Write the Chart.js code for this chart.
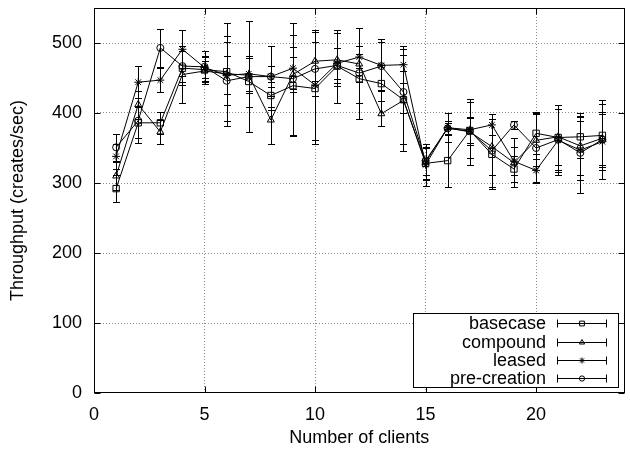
<!DOCTYPE html>
<html>
<head>
<meta charset="utf-8">
<script src="https://cdn.jsdelivr.net/npm/chart.js@4/dist/chart.umd.min.js"></script>
<style>
  html, body { margin: 0; padding: 0; background: #fff; }
  #wrap { width: 630px; height: 450px; }
</style>
</head>
<body>
<div id="wrap"><canvas id="chart" width="630" height="450"></canvas></div>
<script>
// Number of clients (x)
const clients = [1, 2, 3, 4, 5, 6, 7, 8, 9, 10, 11, 12, 13, 14, 15, 16, 17, 18, 19, 20, 21, 22, 23];

// Throughput means (creates/sec)
const basecase    = [292, 386, 386, 464, 462, 459, 445, 425, 439, 435, 467, 449, 442, 419, 328, 332, 375, 341, 320, 371, 365, 366, 368];
const compound    = [310, 412, 373, 455, 460, 456, 454, 390, 455, 474, 476, 470, 399, 418, 330, 379, 373, 352, 329, 361, 366, 353, 364];
const leased      = [338, 444, 447, 491, 465, 454, 456, 452, 464, 440, 471, 480, 468, 469, 326, 379, 376, 383, 331, 318, 361, 347, 359];
const precreation = [351, 389, 493, 467, 466, 446, 452, 452, 449, 463, 468, 457, 467, 430, 332, 378, 374, 346, 383, 350, 362, 343, 362];

// Error bar half-widths
const basecaseErr    = [19, 22, 16, 24, 20, 70, 36, 20, 72, 80, 52, 35, 60, 64, 22, 38, 18, 50, 18, 30, 46, 30, 45];
const compoundErr    = [20, 20, 17, 40, 14, 45, 25, 34, 25, 28, 38, 25, 18, 73, 25, 10, 47, 40, 35, 37, 40, 42, 38];
const leasedErr      = [18, 23, 17, 27, 15, 27, 25, 43, 30, 78, 22, 15, 37, 26, 30, 21, 40, 15, 20, 17, 45, 42, 40];
const precreationErr = [19, 32, 27, 22, 22, 64, 79, 15, 80, 38, 25, 65, 34, 30, 20, 8, 20, 52, 6, 50, 50, 57, 56];

const xTicks = [0, 5, 10, 15, 20];
const yTicks = [0, 100, 200, 300, 400, 500];

const series = [
    { label: 'basecase',     values: basecase,    err: basecaseErr,    style: 'rect',     radius: 4.5 },
    { label: 'compound',     values: compound,    err: compoundErr,    style: 'triangle', radius: 4 },
    { label: 'leased',       values: leased,      err: leasedErr,      style: 'star',     radius: 4 },
    { label: 'pre-creation', values: precreation, err: precreationErr, style: 'circle',   radius: 3.5 }
];

const FONT = 'Liberation Sans, Arial, Helvetica, sans-serif';

// Barres d'erreur (verticales avec petits chapeaux)
const errorBars = {
    id: 'errorBars',
    beforeDatasetsDraw(chart) {
        const { ctx, scales: { x, y } } = chart;
        ctx.save();
        ctx.strokeStyle = '#000';
        ctx.lineWidth = 1;
        series.forEach(s => {
            clients.forEach((c, i) => {
                const px = Math.round(x.getPixelForValue(c)) + 0.5;
                const top = Math.round(y.getPixelForValue(s.values[i] + s.err[i])) + 0.5;
                const bot = Math.round(y.getPixelForValue(s.values[i] - s.err[i])) + 0.5;
                ctx.beginPath();
                ctx.moveTo(px, top); ctx.lineTo(px, bot);
                ctx.moveTo(px - 3.5, top); ctx.lineTo(px + 3.5, top);
                ctx.moveTo(px - 3.5, bot); ctx.lineTo(px + 3.5, bot);
                ctx.stroke();
            });
        });
        ctx.restore();
    }
};

// Cadre + graduations vers l'intérieur + légende façon gnuplot
const frameAndLegend = {
    id: 'frameAndLegend',
    afterDatasetsDraw(chart) {
        const { ctx, chartArea: a, scales: { x, y } } = chart;
        ctx.save();
        ctx.strokeStyle = '#000';
        ctx.lineWidth = 1;
        const L = Math.round(a.left) + 0.5, R = Math.round(a.right) - 0.5;
        const T = Math.round(a.top) + 0.5, B = Math.round(a.bottom) - 0.5;
        ctx.strokeRect(L, T, R - L, B - T);

        ctx.beginPath();
        xTicks.forEach(v => {
            const px = Math.round(x.getPixelForValue(v)) + 0.5;
            ctx.moveTo(px, B); ctx.lineTo(px, B - 6);
            ctx.moveTo(px, T); ctx.lineTo(px, T + 6);
        });
        yTicks.forEach(v => {
            const py = Math.round(y.getPixelForValue(v)) + 0.5;
            ctx.moveTo(L, py); ctx.lineTo(L + 6, py);
            ctx.moveTo(R, py); ctx.lineTo(R - 6, py);
        });
        ctx.stroke();

        // Légende
        const bx = 413.5, by = 313.5, bw = 205, bh = 74;
        ctx.fillStyle = '#fff';
        ctx.fillRect(bx, by, bw, bh);
        ctx.strokeRect(bx, by, bw, bh);
        ctx.font = '18px ' + FONT;
        ctx.textAlign = 'right';
        ctx.textBaseline = 'middle';
        const rows = [323.5, 342.5, 360.5, 378.5];
        series.forEach((s, i) => {
            const ry = rows[i];
            ctx.fillStyle = '#000';
            ctx.fillText(s.label, 546, ry + 1);
            ctx.beginPath();
            ctx.moveTo(557, ry); ctx.lineTo(607, ry);
            ctx.moveTo(557.5, ry - 4); ctx.lineTo(557.5, ry + 4);
            ctx.moveTo(606.5, ry - 4); ctx.lineTo(606.5, ry + 4);
            ctx.stroke();
            ctx.fillStyle = 'rgba(0,0,0,0)';
            Chart.helpers.drawPoint(ctx, {
                pointStyle: s.style, radius: s.radius * 0.75, borderWidth: 1, rotation: 0
            }, 582, ry);
        });
        ctx.restore();
    }
};

const gridColor = c => (c.tick && c.tick.value === 0) ? 'rgba(0,0,0,0)' : '#8a8a8a';

new Chart(document.getElementById('chart'), {
    type: 'line',
    data: {
        datasets: series.map(s => ({
            label: s.label,
            data: clients.map((c, i) => ({ x: c, y: s.values[i] })),
            borderColor: '#000',
            borderWidth: 1,
            backgroundColor: 'rgba(0,0,0,0)',
            pointStyle: s.style,
            pointRadius: s.radius,
            pointBorderColor: '#000',
            pointBackgroundColor: 'rgba(0,0,0,0)',
            pointBorderWidth: 1,
            tension: 0,
            fill: false
        }))
    },
    options: {
        responsive: false,
        animation: false,
        layout: { padding: { left: 0, right: 3, top: 8, bottom: 0 } },
        plugins: {
            legend: { display: false },
            tooltip: { enabled: false }
        },
        scales: {
            x: {
                type: 'linear',
                min: 0,
                max: 24,
                afterBuildTicks: scale => { scale.ticks = xTicks.map(v => ({ value: v })); },
                afterFit: scale => {
                    scale.height = 57;
                    scale.paddingLeft = 0;
                    scale.paddingRight = 0;
                },
                grid: { color: gridColor, lineWidth: 1, drawTicks: false },
                border: { display: false, dash: [1, 2] },
                ticks: { color: '#000', padding: 11, maxRotation: 0, font: { family: FONT, size: 18 } },
                title: {
                    display: true,
                    text: 'Number of clients',
                    color: '#000',
                    padding: { top: 0, bottom: 1 },
                    font: { family: FONT, size: 18 }
                }
            },
            y: {
                min: 0,
                max: 550,
                afterBuildTicks: scale => { scale.ticks = yTicks.map(v => ({ value: v })); },
                afterFit: scale => {
                    scale.width = 94;
                    scale.paddingTop = 0;
                    scale.paddingBottom = 0;
                },
                grid: { color: gridColor, lineWidth: 1, drawTicks: false },
                border: { display: false, dash: [1, 2] },
                ticks: { color: '#000', padding: 12, font: { family: FONT, size: 18 } },
                title: {
                    display: true,
                    text: 'Throughput (creates/sec)',
                    color: '#000',
                    padding: { top: 7, bottom: 0 },
                    font: { family: FONT, size: 18 }
                }
            }
        }
    },
    plugins: [errorBars, frameAndLegend]
});
</script>
</body>
</html>
